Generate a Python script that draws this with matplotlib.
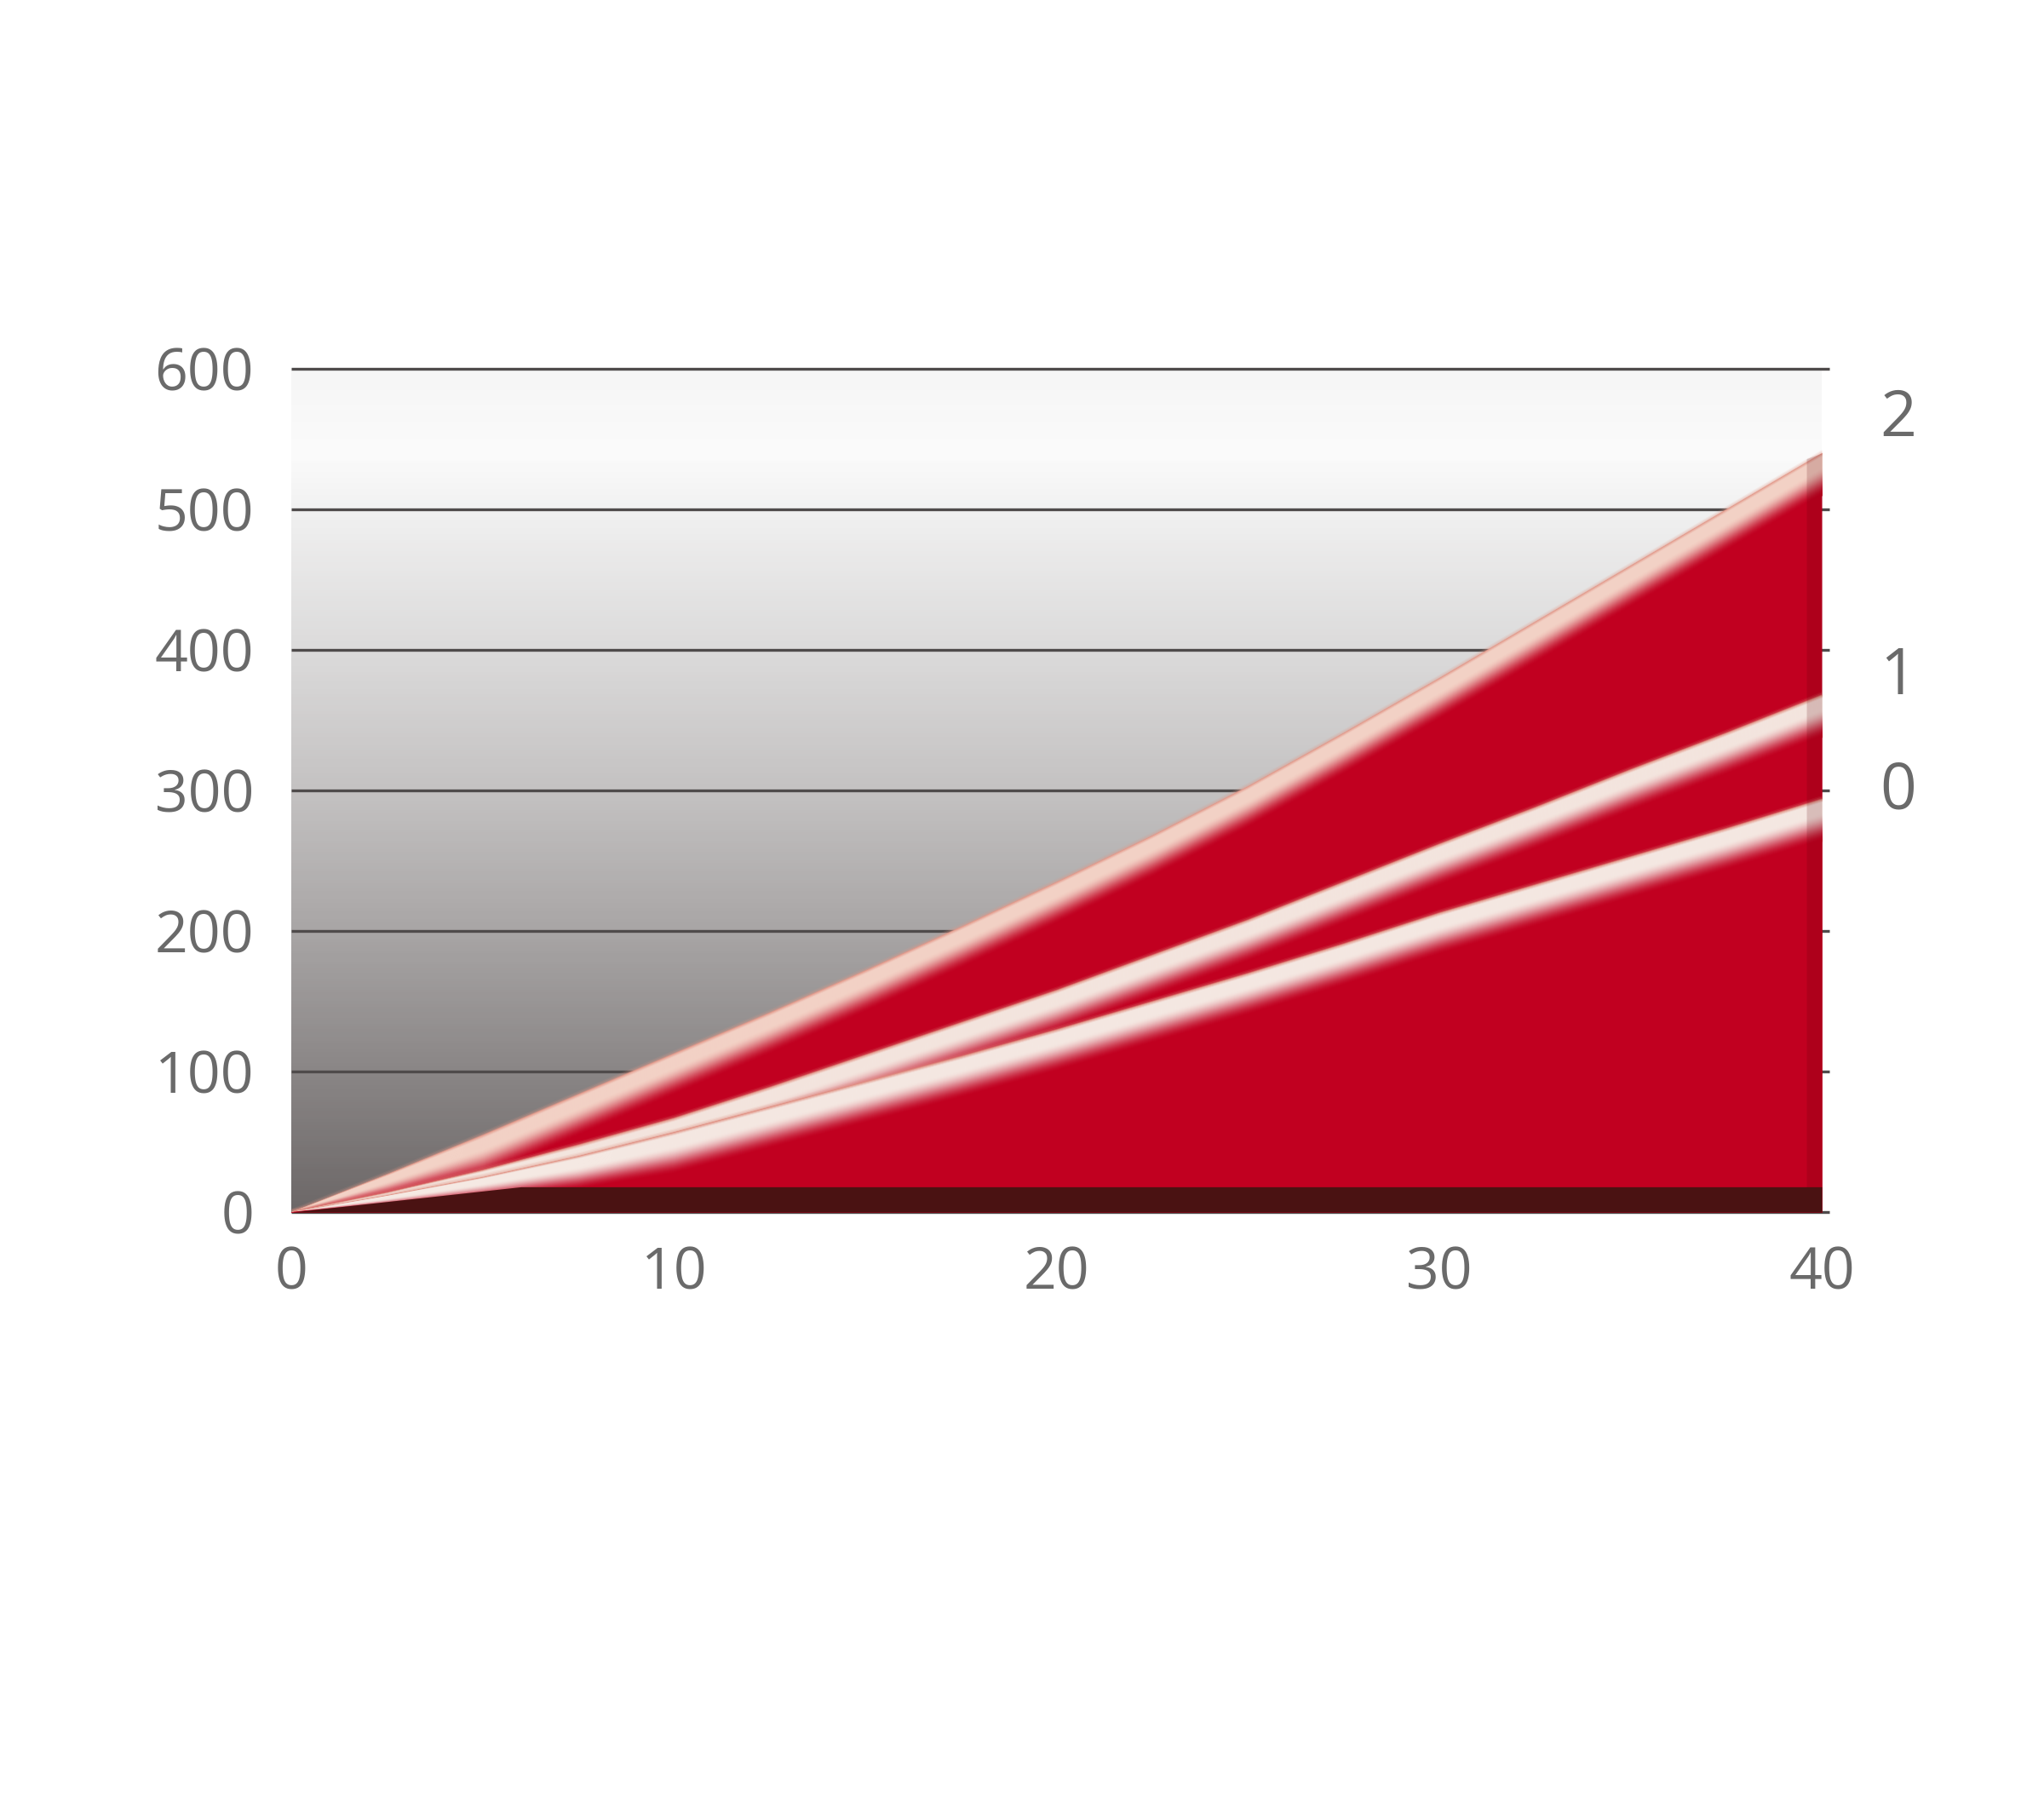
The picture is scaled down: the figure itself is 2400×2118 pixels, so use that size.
import numpy as np
import matplotlib.pyplot as plt
from matplotlib.colors import LinearSegmentedColormap, to_rgb

# values
x = [0, 2.5, 5, 7.5, 10, 12.5, 15, 17.5, 20, 22.5, 25, 27.5, 30, 32.5, 35, 37.5, 40]
serie_2 = [0, 27, 55, 84, 113, 142, 172, 203, 235, 268, 303, 341, 380, 420, 460, 500, 540]
serie_1 = [0, 14, 30, 48, 67, 89, 112, 135, 158, 183, 208, 235, 262, 288, 315, 341, 368]
serie_0 = [0, 12, 25, 40, 57, 75, 93, 111, 130, 150, 170, 191, 213, 233, 253, 273, 294]
baza_x = [0, 6, 40]
baza_y = [0, 18, 18]

etichete = ["2", "1", "0"]
etichete_y = [564, 380, 299]

xticks = [0, 10, 20, 30, 40]
yticks = [0, 100, 200, 300, 400, 500, 600]

ROSU = "#c10020"
GRI_TEXT = "#6a6a6a"
GRILA = "#4f4b4b"

plt.rcParams['font.family'] = ['Open Sans', 'DejaVu Sans']

fig = plt.figure(figsize=(24, 21.18), dpi=100)
ax = fig.add_axes([0.1416, 0.3281, 0.7534, 0.4675])
ax.set_xlim(-0.05, 40.2)
ax.set_ylim(0, 600)

# fundal gri in degrade
cmap_fundal = LinearSegmentedColormap.from_list(
    "fundal", [(0, "#6d6868"), (0.17, "#8b8787"), (0.33, "#a8a5a5"), (0.5, "#c4c2c2"),
               (0.67, "#dcdbdb"), (0.8, "#ececec"), (0.9, "#fbfbfb"), (1, "#f6f6f6")])
grad = np.linspace(0, 1, 300).reshape(-1, 1)
ax.imshow(grad, extent=[0, 40, 0, 600], origin="lower", aspect="auto", cmap=cmap_fundal, zorder=0)

for yt in yticks:
    ax.plot([0, 40.2], [yt, yt], color=GRILA, lw=2.4, zorder=1, clip_on=False, solid_capstyle="butt")


def amesteca(c1, c2, t):
    a = np.array(to_rgb(c1))
    b = np.array(to_rgb(c2))
    return tuple(a * (1 - t) + b * t)


def banda(xs, ys, varf, margine, z):
    xs = np.array(xs, dtype=float)
    ys = np.array(ys, dtype=float)
    w = np.clip(0.6 * ys, 0, 30)
    ax.fill_between(xs, 0, ys, color=ROSU, lw=0, zorder=z)
    n = 50
    for k in range(n):
        t0, t1 = k / n, (k + 1) / n
        tm = (t0 + t1) / 2
        if tm < 0.08:
            c = amesteca(margine, varf, tm / 0.08)
        elif tm < 0.33:
            c = varf
        else:
            u = (tm - 0.33) / 0.67
            c = amesteca(varf, ROSU, u * u * (3 - 2 * u))
        sus = np.maximum(ys - w * t0, 0)
        jos = np.maximum(ys - w * t1, 0)
        ax.fill_between(xs, jos, sus, color=c, ec=c, lw=0.6, zorder=z + 0.1)
    # margine usor difuza deasupra
    for k, a in enumerate([0.55, 0.3, 0.12]):
        ax.fill_between(xs, ys + 0.9 * k, ys + 0.9 * (k + 1), color=margine, alpha=a, lw=0, zorder=z + 0.1)


banda(x, serie_2, "#f3d2c6", "#e39a8a", 2)
banda(x, serie_1, "#f4e6df", "#e08f80", 3)
banda(x, serie_0, "#f5e9e3", "#e08f80", 4)

# latura dreapta mai inchisa
ax.fill_between([39.6, 40], [0, 0], [serie_2[-1] - 4, serie_2[-1]], color="#5a0008", alpha=0.18, lw=0, zorder=4.5)

# banda de baza maro inchis
ax.fill_between(baza_x, 0, baza_y, color="#4a1212", lw=0, zorder=5)

for et, ey in zip(etichete, etichete_y):
    ax.text(42.0, ey, et, fontsize=54, color=GRI_TEXT, ha="center", va="center", clip_on=False)

ax.set_xticks(xticks)
ax.set_yticks(yticks)
ax.tick_params(length=0, labelsize=49, colors=GRI_TEXT)
ax.tick_params(axis="x", pad=28)
ax.tick_params(axis="y", pad=30)
for s in ax.spines.values():
    s.set_visible(False)

fig.savefig("out.png", dpi=100, facecolor="white")
